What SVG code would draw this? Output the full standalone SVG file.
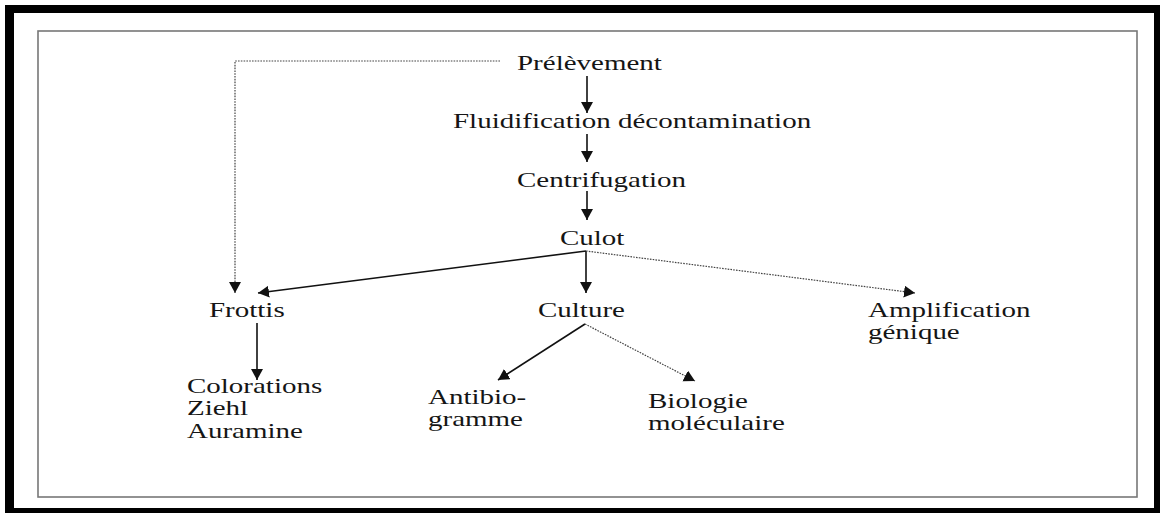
<svg xmlns="http://www.w3.org/2000/svg" width="1160" height="513" viewBox="0 0 1160 513">
<style>
text{font-family:"Liberation Serif","Times New Roman",serif;font-size:20px;fill:#151515}
.s{stroke:#111;stroke-width:1.6;fill:none}
.d{stroke:#444;stroke-width:1.2;fill:none;stroke-dasharray:1.6 1.2}
</style>
<defs>
<marker id="ah" markerUnits="userSpaceOnUse" markerWidth="13" markerHeight="13" refX="11" refY="6" orient="auto">
<path d="M0,0 L11,6 L0,12 z" fill="#111"/>
</marker>
</defs>
<rect x="0" y="0" width="1160" height="513" fill="#fff"/>
<rect x="5" y="5" width="1155" height="508" fill="#000"/>
<rect x="14" y="13" width="1140" height="495" fill="#fff"/>
<rect x="38" y="31" width="1099" height="466" fill="none" stroke="#777" stroke-width="1.6"/>
<g id="connectors">
<line class="s" x1="587" y1="76" x2="587" y2="113" marker-end="url(#ah)"/>
<line class="s" x1="587" y1="134" x2="587" y2="162" marker-end="url(#ah)"/>
<line class="s" x1="587" y1="191" x2="587" y2="220" marker-end="url(#ah)"/>
<polyline class="d" points="500,61 235,61 235,293" marker-end="url(#ah)"/>
<line class="s" x1="586" y1="251" x2="258" y2="293" marker-end="url(#ah)"/>
<line class="s" x1="586" y1="251" x2="586" y2="293" marker-end="url(#ah)"/>
<line class="d" x1="586" y1="251" x2="915" y2="293" marker-end="url(#ah)"/>
<line class="s" x1="257" y1="323" x2="257" y2="380" marker-end="url(#ah)"/>
<line class="s" x1="585" y1="324" x2="498" y2="380" marker-end="url(#ah)"/>
<line class="d" x1="585" y1="324" x2="695" y2="381" marker-end="url(#ah)"/>
</g>
<g id="n-prelevement" transform="translate(517,70) scale(1.45,1)"><text x="0" y="0">Prélèvement</text></g>
<g id="n-fluidification" transform="translate(453,128) scale(1.45,1)"><text x="0" y="0">Fluidification décontamination</text></g>
<g id="n-centrifugation" transform="translate(517,187) scale(1.45,1)"><text x="0" y="0">Centrifugation</text></g>
<g id="n-culot" transform="translate(560,245) scale(1.45,1)"><text x="0" y="0">Culot</text></g>
<g id="n-frottis" transform="translate(209,317) scale(1.45,1)"><text x="0" y="0">Frottis</text></g>
<g id="n-culture" transform="translate(538,317) scale(1.45,1)"><text x="0" y="0">Culture</text></g>
<g id="n-amplification" transform="translate(868,317) scale(1.45,1)"><text x="0" y="0">Amplification</text><text x="0" y="22">génique</text></g>
<g id="n-colorations" transform="translate(187,393) scale(1.45,1)"><text x="0" y="0">Colorations</text><text x="0" y="22.5">Ziehl</text><text x="0" y="45">Auramine</text></g>
<g id="n-antibiogramme" transform="translate(428,404) scale(1.45,1)"><text x="0" y="0">Antibio-</text><text x="0" y="22">gramme</text></g>
<g id="n-biologie" transform="translate(648,408) scale(1.45,1)"><text x="0" y="0">Biologie</text><text x="0" y="22">moléculaire</text></g>
</svg>
